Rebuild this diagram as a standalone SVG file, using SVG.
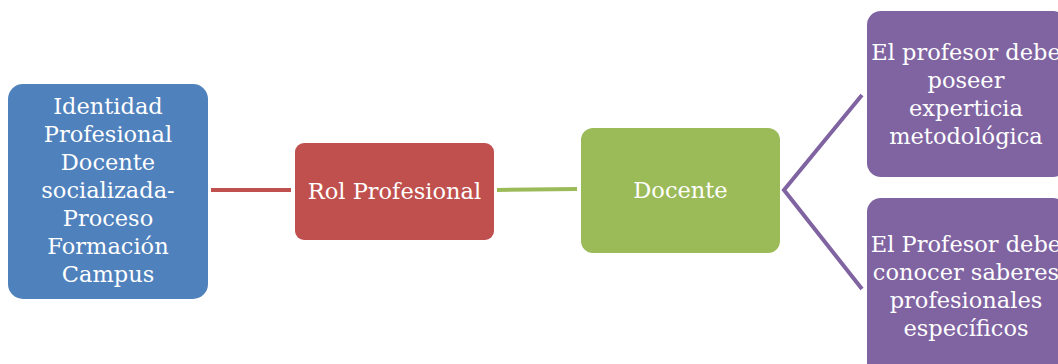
<svg xmlns="http://www.w3.org/2000/svg" width="1058" height="364" viewBox="0 0 1058 364">
<style>
text{font-family:"DejaVu Serif","Liberation Serif",serif;font-size:22.5px;fill:#fff;text-anchor:middle}
.c{fill:none;stroke-width:4}
</style>
<rect width="1058" height="364" fill="#fff"/>
<g id="connectors">
<line class="c" x1="211" y1="190" x2="291" y2="190" stroke="#C0504D"/>
<line class="c" x1="497" y1="190" x2="577" y2="189" stroke="#9BBB59"/>
<polyline class="c" points="862,95 784,190 862,289" stroke="#8064A2"/>
</g>
<g id="n1">
<rect x="8" y="84" width="200" height="215" rx="15" fill="#4F81BD"/>
<text x="108" y="114">Identidad</text>
<text x="108" y="142">Profesional</text>
<text x="108" y="170">Docente</text>
<text x="108" y="198">socializada-</text>
<text x="108" y="226">Proceso</text>
<text x="108" y="254">Formación</text>
<text x="108" y="282">Campus</text>
</g>
<g id="n2">
<rect x="295" y="143" width="199" height="97" rx="9" fill="#C0504D"/>
<text x="394.5" y="199">Rol Profesional</text>
</g>
<g id="n3">
<rect x="581" y="128" width="199" height="125" rx="12" fill="#9BBB59"/>
<text x="680.5" y="198">Docente</text>
</g>
<g id="n4">
<rect x="867" y="11" width="200" height="166" rx="14" fill="#8064A2"/>
<text x="966" y="60">El profesor debe</text>
<text x="966" y="88">poseer</text>
<text x="966" y="116">experticia</text>
<text x="966" y="144">metodológica</text>
</g>
<g id="n5">
<rect x="867" y="198" width="200" height="180" rx="14" fill="#8064A2"/>
<text x="966" y="252">El Profesor debe</text>
<text x="966" y="280">conocer saberes</text>
<text x="966" y="308">profesionales</text>
<text x="966" y="336">específicos</text>
</g>
</svg>
